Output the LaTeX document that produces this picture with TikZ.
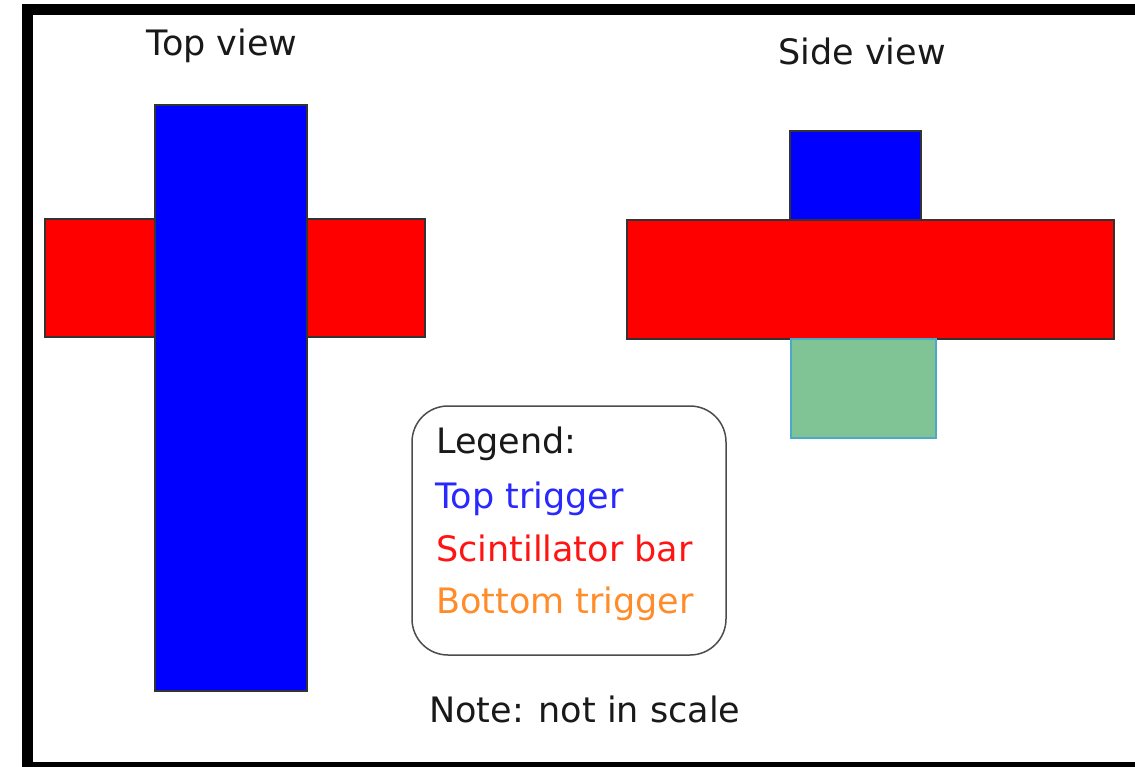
\documentclass[tikz,border=0pt]{standalone}
\usepackage{fontspec}
\setmainfont{DejaVu Sans}
\definecolor{fblue}{RGB}{0,0,255}
\definecolor{fred}{RGB}{255,0,0}
\definecolor{fgreen}{RGB}{128,196,149}
\definecolor{gedge}{RGB}{74,170,200}
\definecolor{tblue}{RGB}{40,40,255}
\definecolor{tred}{RGB}{255,20,20}
\definecolor{torange}{RGB}{255,140,40}
\definecolor{tblack}{RGB}{25,25,25}
\begin{document}
\begin{tikzpicture}[x=1pt,y=-1pt,
  bar/.style={draw=black!80,line width=2pt},
  lbl/.style={font=\fontsize{35}{40}\selectfont,inner sep=0pt,anchor=base west}]
\useasboundingbox (0,0) rectangle (1135,767);
\clip (0,0) rectangle (1135,767);
\fill[white] (0,0) rectangle (1135,767);
\draw[line width=11pt] (27.5,10) rectangle (1160,767.5);
% top view
\draw[bar,fill=fred] (45,219) rectangle (425,337);
\draw[bar,fill=fblue] (155,105) rectangle (307,691);
% side view
\draw[bar,fill=fblue] (790,131) rectangle (921,220);
\draw[bar,fill=fred] (627,220) rectangle (1114,339);
\draw[draw=gedge,line width=1.5pt,fill=fgreen] (791,339) rectangle (936,438);
% titles
\node[lbl,anchor=base,text=tblack] (tv) at (222,56) {Top view};
\node[lbl,anchor=base,text=tblack] (sv) at (862,65) {Side view};
% legend
\draw[draw=black!70,line width=1.5pt,rounded corners=36pt] (412,406) rectangle (726,655);
\node[lbl,text=tblack] (lg) at (436,453) {Legend:};
\node[lbl,text=tblue] (lt) at (435,508) {Top trigger};
\node[lbl,text=tred] (ls) at (436,561) {Scintillator bar};
\node[lbl,text=torange] (lb) at (436,613) {Bottom trigger};
\node[lbl,text=tblack] (nt) at (429,722) {Note: not in scale};
\end{tikzpicture}
\end{document}
